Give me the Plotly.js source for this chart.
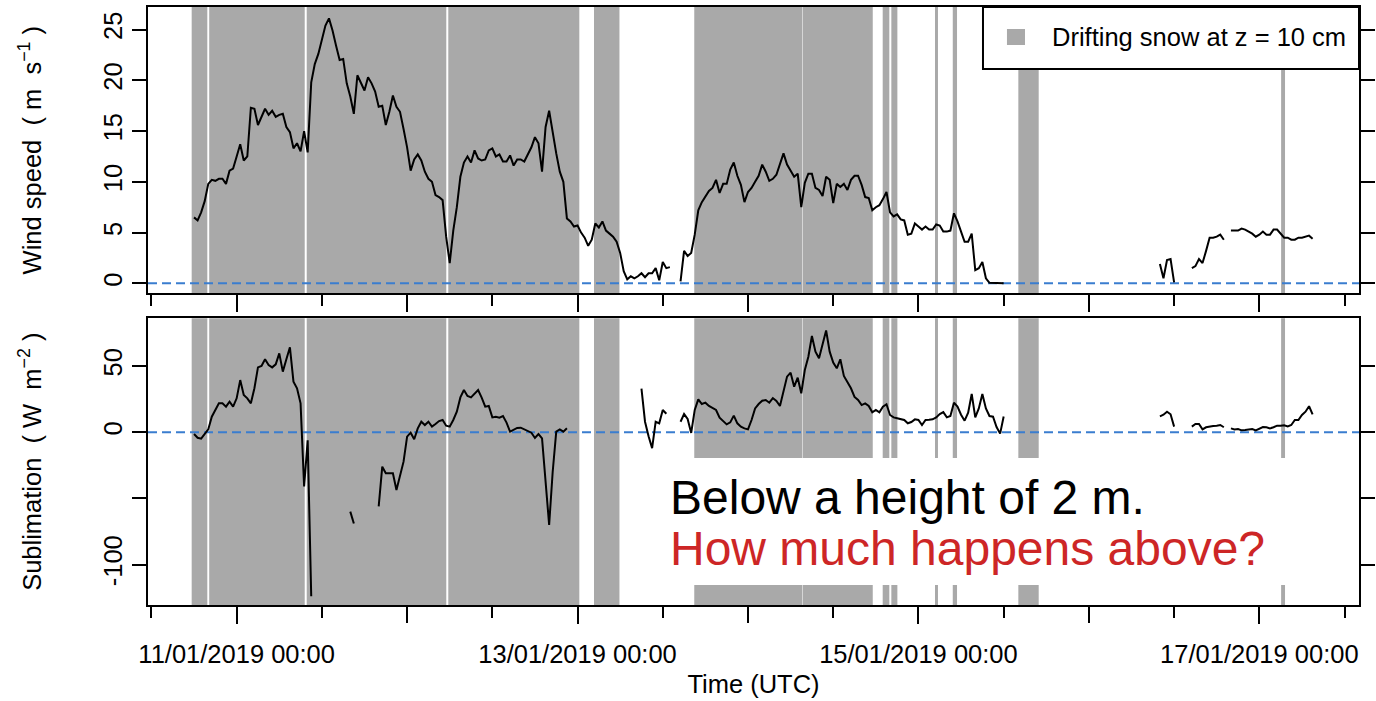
<!DOCTYPE html>
<html>
<head>
<meta charset="utf-8">
<script src="https://cdn.plot.ly/plotly-3.0.1.min.js"></script>
<style>html,body{margin:0;padding:0;background:#fff;}#chart{width:1376px;height:701px;}</style>
</head>
<body>
<div id="chart"></div>
<script>
// Half-hourly series starting 2019-01-10 18:00 UTC (each row = 6 hours)
const seriesStart = '2019-01-10 18:00';
const stepMinutes = 30;

const windSpeed = [
  6.5, 6.2, 7.0, 8.1, 9.8, 10.2, 10.1, 10.3, 10.3, 9.8, 11.1, 11.3,
  12.5, 13.7, 12.1, 12.5, 17.3, 17.2, 15.6, 16.4, 17.2, 16.6, 17.0, 16.4,
  16.6, 16.7, 15.4, 14.9, 13.3, 13.8, 13.0, 15.0, 12.9, 19.8, 21.6, 22.6,
  23.9, 25.4, 26.1, 24.9, 23.4, 22.0, 22.1, 19.7, 18.4, 16.7, 20.5, 19.8,
  19.0, 20.3, 19.7, 18.9, 17.4, 17.5, 15.6, 16.9, 18.5, 17.4, 16.9, 15.2,
  13.4, 11.1, 12.2, 12.7, 12.1, 11.0, 10.3, 10.0, 8.7, 8.5, 8.2, 4.6,
  2.0, 5.2, 7.5, 10.5, 11.9, 12.5, 11.9, 13.1, 12.3, 12.1, 12.2, 13.1,
  13.3, 12.5, 12.7, 12.0, 12.0, 12.6, 11.6, 12.2, 12.2, 12.0, 12.7, 13.4,
  14.4, 13.8, 11.0, 15.4, 17.0, 14.8, 12.8, 11.0, 10.0, 6.4, 6.1, 5.6,
  5.7, 5.0, 4.5, 3.7, 4.3, 5.9, 5.5, 6.1, 5.2, 4.9, 4.6, 4.1,
  3.0, 1.2, 0.4, 0.7, 0.5, 0.7, 1.0, 0.6, 1.0, 1.0, 1.5, 0.3,
  2.1, 1.5, 1.6, null, null, 0.2, 3.2, 2.7, 3.0, 4.8, 7.2, 8.0,
  8.5, 9.1, 9.4, 10.2, 8.9, 9.8, 9.8, 11.2, 11.9, 10.6, 9.7, 8.0,
  9.0, 9.4, 10.0, 10.6, 11.7, 11.0, 10.1, 10.3, 10.7, 11.8, 12.8, 11.7,
  11.1, 10.5, 10.8, 7.5, 9.9, 10.8, 10.8, 9.4, 9.2, 8.6, 10.5, 10.2,
  7.9, 9.8, 9.5, 9.8, 9.2, 10.2, 10.6, 10.6, 9.7, 8.5, 8.4, 7.2,
  7.5, 7.7, 8.3, 9.0, 7.0, 6.6, 6.8, 6.3, 6.2, 4.8, 4.9, 5.9,
  5.6, 5.3, 5.6, 5.3, 5.3, 5.8, 5.7, 5.1, 5.1, 5.2, 6.9, 6.1,
  5.1, 4.1, 4.1, 4.9, 1.3, 1.5, 2.1, 0.5, 0.05, 0.05, 0.05, 0.05,
  0.0, null, null, null, null, null, null, null, null, null, null, null,
  null, null, null, null, null, null, null, null, null, null, null, null,
  null, null, null, null, null, null, null, null, null, null, null, null,
  null, null, null, null, null, null, null, null, 1.9, 0.5, 2.3, 2.4,
  0.1, null, null, null, null, 1.5, 1.7, 2.4, 2.0, 3.2, 4.5, 4.5,
  4.6, 4.8, 4.3, null, 5.2, 5.2, 5.2, 5.4, 5.3, 5.1, 4.9, 4.6,
  4.8, 5.1, 4.8, 4.8, 5.3, 5.3, 4.9, 4.5, 4.5, 4.3, 4.3, 4.5,
  4.5, 4.6, 4.7, 4.4
];

const sublimation = [
  -1.3, -4.1, -4.8, -1.3, 2.2, 11.8, 16.4, 21.9, 21.9, 19.4, 23.2, 19.4,
  25.7, 39.5, 28.2, 25.7, 21.9, 33.3, 49.1, 50.1, 55.2, 50.9, 49.1, 51.4,
  59.7, 45.9, 55.2, 64.3, 38.3, 33.3, 21.9, -41, -6, -124, null, null,
  null, null, null, null, null, null, null, null, -60, -69, null, null,
  null, null, null, null, -56, -26, -31, -31, -31, -43.6, -33.6, -22.2,
  -3.3, -0.3, -5.3, 3.0, 8.0, 5.5, 8.0, 4.3, 6.3, 8.5, 9.3, 5.0,
  4.3, 9.3, 15.6, 26.4, 32.0, 27.5, 26.4, 29.0, 32.0, 26.2, 19.4, 19.9,
  11.3, 11.8, 11.1, 12.3, 7.3, 0.5, 1.7, 3.3, 3.5, 2.2, 0.5, -0.3,
  -4.3, -1.3, -4.6, -36, -70, -29.8, 0.5, 2.2, 0.5, 3.0, null, null,
  null, null, null, null, null, null, null, null, null, null, null, null,
  null, null, null, null, null, null, 33, 8, -3, -12, 8, 6.8,
  16.9, 14, null, null, null, 8.0, 13.8, 10.1, -0.5, 16.9, 24.9, 21.4,
  22.4, 19.9, 18.1, 16.9, 11.1, 8.8, 6.0, 7.5, 12.6, 6.8, 4.3, 3.0,
  2.2, 9.3, 18.1, 21.4, 23.9, 24.4, 22.4, 25.9, 23.7, 19.9, 30.7, 42.1,
  45.1, 34.5, 41.3, 29.5, 47.1, 57.2, 72.8, 61.0, 56.0, 66.0, 77, 61.0,
  52.7, 48.4, 55.2, 42.6, 37.5, 33.3, 26.7, 24.4, 20.6, 21.9, 19.9, 15.1,
  16.9, 15.1, 19.4, 21.2, 13.1, 11.3, 10.6, 9.8, 9.3, 6.8, 7.8, 9.8,
  9.3, 5.5, 9.3, 9.5, 9.8, 11.3, 13.8, 15.3, 11.3, 12.3, 22.4, 19.4,
  13.3, 8.8, 14.8, 29.0, 11.3, 18.1, 29.0, 18.1, 12.3, 11.8, 4.0, -1.0,
  12, null, null, null, null, null, null, null, null, null, null, null,
  null, null, null, null, null, null, null, null, null, null, null, null,
  null, null, null, null, null, null, null, null, null, null, null, null,
  null, null, null, null, null, null, null, null, 12.1, 13.3, 15.6, 13.6,
  4.3, null, null, null, null, 4.3, 6.3, 6.3, 2.2, 3.8, 4.5, 4.8,
  5.0, 5.5, 3.8, null, 3.0, 2.2, 2.5, 1.5, 1.7, 2.0, 2.5, 1.5,
  2.5, 4.0, 3.8, 3.0, 3.8, 5.0, 5.0, 5.3, 4.5, 5.5, 9.3, 9.3,
  13.1, 15.6, 19.7, 13.5
];

// Drifting snow periods (z = 10 cm)
const driftStart = ['2019-01-10 17:40','2019-01-10 20:08','2019-01-11 09:52','2019-01-12 05:48','2019-01-13 02:19',
  '2019-01-13 16:26','2019-01-14 07:43','2019-01-14 18:58','2019-01-14 20:11','2019-01-15 02:20','2019-01-15 04:50',
  '2019-01-15 14:04','2019-01-17 03:04'];
const driftEnd = ['2019-01-10 19:52','2019-01-11 09:35','2019-01-12 05:31','2019-01-13 00:15','2019-01-13 05:54',
  '2019-01-14 07:39','2019-01-14 17:34','2019-01-14 19:54','2019-01-14 21:02','2019-01-15 02:45','2019-01-15 05:26',
  '2019-01-15 16:56','2019-01-17 03:37'];

// x ticks: labelled midnights, unlabelled midnights, noons
const labelTicks = ['2019-01-11','2019-01-13','2019-01-15','2019-01-17'];
const labelText = ['11/01/2019 00:00','13/01/2019 00:00','15/01/2019 00:00','17/01/2019 00:00'];
const otherMidnights = ['2019-01-12','2019-01-14','2019-01-16'];
const allMidnights = ['2019-01-11','2019-01-12','2019-01-13','2019-01-14','2019-01-15','2019-01-16','2019-01-17'];
const noonTicks = ['2019-01-10 12:00','2019-01-11 12:00','2019-01-12 12:00','2019-01-13 12:00','2019-01-14 12:00',
  '2019-01-15 12:00','2019-01-16 12:00','2019-01-17 12:00'];
const windTicks = [0,5,10,15,20,25];
const sublTicks = [-100,0,50];
const sublMinorTicks = [-50];

function pad(n){return String(n).padStart(2,'0');}
function fmt(ms){const d=new Date(ms);return d.getUTCFullYear()+'-'+pad(d.getUTCMonth()+1)+'-'+pad(d.getUTCDate())+' '+pad(d.getUTCHours())+':'+pad(d.getUTCMinutes());}
const t0 = Date.parse(seriesStart.replace(' ','T')+':00Z');
const time = windSpeed.map((_,i)=>fmt(t0 + i*stepMinutes*60000));

const FONT = 'Liberation Sans, Arial, Helvetica, sans-serif';
const GRAY = '#A9A9A9';
const xRange = ['2019-01-10 11:31','2019-01-17 14:02'];
const TICKFONT = {family:FONT, size:25.5, color:'#000'};
const TITLEFONT = {family:FONT, size:25.5, color:'#000'};

function xAxis(anchor, vals, text, labels, title){
  const ax = {
    type:'date', anchor:anchor, domain:[0,1], range:xRange,
    tickmode:'array', tickvals:vals,
    showticklabels:labels, ticks:'outside', ticklen:17, tickwidth:2, tickcolor:'#000',
    minor:{tickmode:'array', tickvals:noonTicks, ticks:'outside', ticklen:11, tickwidth:2, tickcolor:'#000', showgrid:false},
    tickfont:TICKFONT, ticklabelstandoff:8,
    showline:true, linewidth:2, linecolor:'#000', mirror:true,
    showgrid:false, zeroline:false, fixedrange:true
  };
  if (text) ax.ticktext = text;
  if (title) ax.title = {text:title, font:TITLEFONT, standoff:9};
  return ax;
}
function yAxis(anchor, domain, range, vals, minorVals, title){
  const ax = {
    anchor:anchor, domain:domain, range:range,
    tickmode:'array', tickvals:vals, ticktext:vals.map(String),
    ticks:'outside', ticklen:14, tickwidth:2, tickcolor:'#000', tickangle:-90,
    tickfont:TICKFONT,
    title:{text:title, font:TITLEFONT, standoff:50},
    showline:true, linewidth:2, linecolor:'#000', mirror:'ticks',
    showgrid:false, zeroline:false, fixedrange:true
  };
  if (minorVals) ax.minor = {tickmode:'array', tickvals:minorVals, ticks:'outside', ticklen:14, tickwidth:2, tickcolor:'#000', showgrid:false};
  return ax;
}

const shapes = [];
driftStart.forEach((s,i)=>{
  shapes.push({type:'rect', xref:'x', yref:'y domain', x0:s, x1:driftEnd[i], y0:0, y1:1, fillcolor:GRAY, line:{width:0}, layer:'below'});
  shapes.push({type:'rect', xref:'x2', yref:'y2 domain', x0:s, x1:driftEnd[i], y0:0, y1:1, fillcolor:GRAY, line:{width:0}, layer:'below'});
});
// white backing of the annotation
shapes.push({type:'rect', xref:'paper', yref:'paper', x0:0.4145, x1:0.9513, y0:0.0334, y1:0.2458, fillcolor:'#fff', line:{width:0}, layer:'below'});
// zero lines
shapes.push({type:'line', xref:'x domain', yref:'y', x0:0, x1:1, y0:0, y1:0, line:{color:'#3A7DCF', width:2, dash:'9px,5px'}, layer:'below'});
shapes.push({type:'line', xref:'x2 domain', yref:'y2', x0:0, x1:1, y0:0, y1:0, line:{color:'#3A7DCF', width:2, dash:'9px,5px'}, layer:'below'});
// legend box
shapes.push({type:'rect', xref:'paper', yref:'paper', x0:0.6895, x1:1.0, y0:0.8963, y1:1.0, fillcolor:'#fff', line:{color:'#000', width:2}, layer:'above'});
shapes.push({type:'rect', xref:'paper', yref:'paper', x0:0.7093, x1:0.7242, y0:0.9365, y1:0.9632, fillcolor:GRAY, line:{width:0}, layer:'above'});

const annotations = [
  {xref:'paper', yref:'paper', x:0.7448, y:0.9498, xanchor:'left', yanchor:'middle', showarrow:false,
   text:'Drifting snow at z = 10 cm', font:{family:FONT, size:25.5, color:'#000'}},
  {xref:'paper', yref:'paper', x:0.429, y:0.1806, xanchor:'left', yanchor:'middle', showarrow:false,
   text:'Below a height of 2 m.', font:{family:FONT, size:48, color:'#000'}},
  {xref:'paper', yref:'paper', x:0.429, y:0.0953, xanchor:'left', yanchor:'middle', showarrow:false,
   text:'How much happens above?', font:{family:FONT, size:48, color:'#CD2626'}}
];

const traces = [
  {x:time, y:windSpeed, xaxis:'x', yaxis:'y', type:'scatter', mode:'lines', connectgaps:false,
   line:{color:'#000', width:2}, hoverinfo:'skip', showlegend:false},
  {x:time, y:sublimation, xaxis:'x2', yaxis:'y2', type:'scatter', mode:'lines', connectgaps:false,
   line:{color:'#000', width:2}, hoverinfo:'skip', showlegend:false},
  // empty helper trace so the overlay axis carrying the unlabelled midnight ticks is drawn
  {x:[], y:[], xaxis:'x3', yaxis:'y2', type:'scatter', mode:'lines', hoverinfo:'skip', showlegend:false}
];

const layout = {
  width:1376, height:701,
  margin:{l:148, r:17, t:7, b:96, pad:0},
  paper_bgcolor:'#fff', plot_bgcolor:'#fff',
  font:{family:FONT, color:'#000'},
  showlegend:false,
  xaxis:xAxis('y', allMidnights, null, false, null),
  xaxis2:xAxis('y2', labelTicks, labelText, true, 'Time (UTC)'),
  xaxis3:{type:'date', overlaying:'x2', anchor:'y2', side:'bottom', range:xRange,
    tickmode:'array', tickvals:otherMidnights, showticklabels:false,
    ticks:'outside', ticklen:17, tickwidth:2, tickcolor:'#000',
    showline:false, showgrid:false, zeroline:false, fixedrange:true},
  yaxis:yAxis('x', [0.5212,1], [-0.98,27.22], windTicks, null,
    'Wind speed\u00a0\u00a0(\u00a0m\u00a0\u00a0s<sup>\u22121</sup>\u00a0)'),
  yaxis2:yAxis('x2', [0,0.4794], [-130.6,86.2], sublTicks, sublMinorTicks,
    'Sublimation\u00a0\u00a0(\u00a0W\u00a0\u00a0m<sup>\u22122</sup>\u00a0)'),
  shapes:shapes,
  annotations:annotations
};

Plotly.newPlot('chart', traces, layout, {staticPlot:true, displayModeBar:false});
</script>
</body>
</html>
